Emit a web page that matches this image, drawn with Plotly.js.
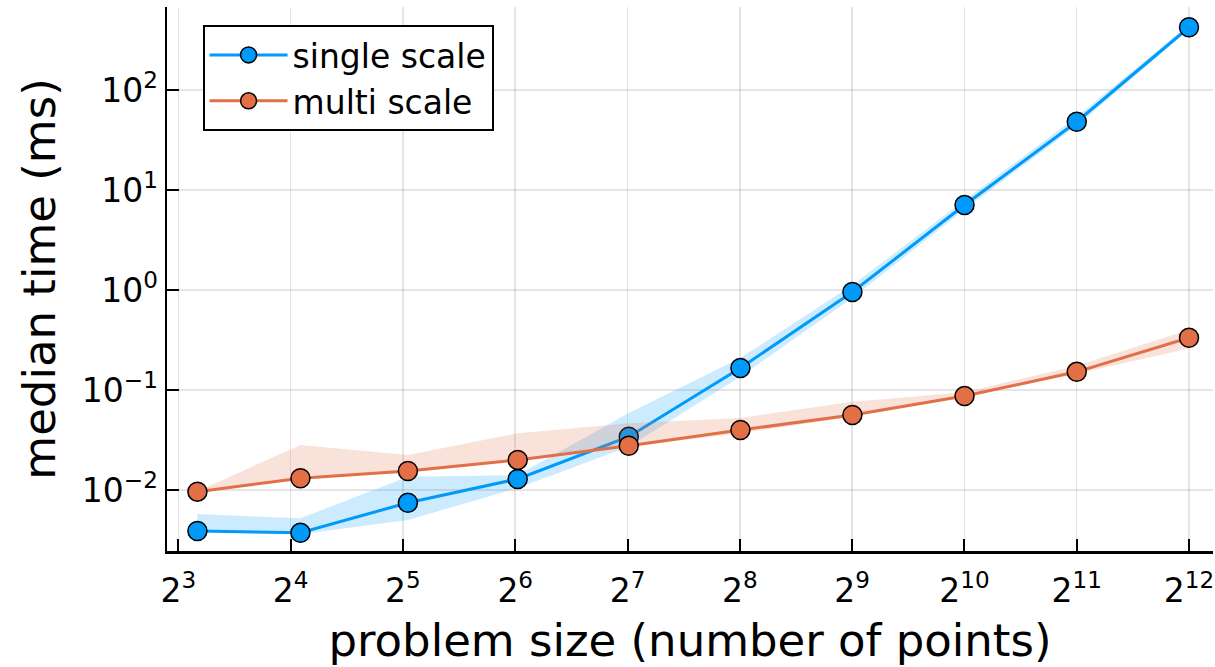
<!DOCTYPE html>
<html>
<head>
<meta charset="utf-8">
<script src="https://cdn.plot.ly/plotly-3.0.1.min.js"></script>
<style>
  html, body { margin: 0; padding: 0; background: #fff; }
  #chart { width: 1215px; height: 667px; }
</style>
</head>
<body>
<div id="chart"></div>
<script>
// Problem sizes (number of points)
const problemSize = [9, 17, 33, 65, 129, 257, 513, 1025, 2049, 4097];

// single scale: median time (ms) and ribbon bounds
const singleMedian = [0.00389, 0.00374, 0.00746, 0.0129, 0.0341, 0.166, 0.955, 7.08, 48.2, 424];
const singleUpper  = [0.00575, 0.00521, 0.0136, 0.0141, 0.059, 0.209, 1.12, 7.9, 54, 450];
const singleLower  = [0.0038, 0.0036, 0.0050, 0.0105, 0.027, 0.136, 0.83, 6.4, 44, 400];

// multi scale: median time (ms) and ribbon bounds
const multiMedian = [0.00962, 0.0131, 0.0155, 0.0200, 0.0277, 0.0398, 0.0562, 0.0871, 0.152, 0.333];
const multiUpper  = [0.0097, 0.0282, 0.0224, 0.0369, 0.0464, 0.0525, 0.0764, 0.095, 0.175, 0.40];
const multiLower  = [0.0095, 0.0128, 0.0150, 0.0195, 0.027, 0.037, 0.054, 0.085, 0.145, 0.26];

// tick labels
const xTickVals = [8, 16, 32, 64, 128, 256, 512, 1024, 2048, 4096];
const xTickText = ["2<sup>3</sup>", "2<sup>4</sup>", "2<sup>5</sup>", "2<sup>6</sup>", "2<sup>7</sup>",
                   "2<sup>8</sup>", "2<sup>9</sup>", "2<sup>10</sup>", "2<sup>11</sup>", "2<sup>12</sup>"];
const yTickVals = [0.01, 0.1, 1, 10, 100];
const yTickText = ["10<sup>\u22122</sup>", "10<sup>\u22121</sup>", "10<sup>0</sup>", "10<sup>1</sup>", "10<sup>2</sup>"];

const seriesNames = ["single scale", "multi scale"];

const BLUE = "#009AFA";
const ORANGE = "#E26F46";
const FONT = "DejaVu Sans, sans-serif";

function ribbon(lower, upper, fill) {
  return [
    { x: problemSize, y: lower, mode: "lines", line: { width: 0, color: fill },
      showlegend: false, hoverinfo: "skip", type: "scatter" },
    { x: problemSize, y: upper, mode: "lines", line: { width: 0, color: fill },
      fill: "tonexty", fillcolor: fill, showlegend: false, hoverinfo: "skip", type: "scatter" }
  ];
}

function series(y, name, color) {
  return {
    x: problemSize, y: y, name: name, type: "scatter", mode: "lines+markers",
    line: { color: color, width: 3 },
    marker: { color: color, size: 19, line: { color: "#000", width: 1.5 } }
  };
}

const data = [
  ...ribbon(singleLower, singleUpper, "rgba(0,154,250,0.2)"),
  series(singleMedian, seriesNames[0], BLUE),
  ...ribbon(multiLower, multiUpper, "rgba(226,111,70,0.2)"),
  series(multiMedian, seriesNames[1], ORANGE)
];

const L2 = Math.log10(2);
const layout = {
  width: 1215, height: 667,
  margin: { l: 167, r: 2, t: 7, b: 116, pad: 0 },
  paper_bgcolor: "#fff", plot_bgcolor: "#fff",
  font: { family: FONT, color: "#000" },
  showlegend: true,
  legend: {
    x: 0.034, y: 0.967, xanchor: "left", yanchor: "top",
    traceorder: "normal",
    itemwidth: 78,
    bgcolor: "#fff", bordercolor: "#000", borderwidth: 2,
    font: { family: FONT, size: 33, color: "#000" },
    tracegroupgap: 0
  },
  xaxis: {
    type: "log",
    range: [2.899 * L2, 12.214 * L2],
    tickvals: xTickVals, ticktext: xTickText,
    ticks: "inside", ticklen: 12, tickwidth: 2, tickcolor: "#000",
    ticklabelstandoff: 9,
    showline: true, linecolor: "#000", linewidth: 2.5,
    showgrid: true, gridcolor: "rgba(0,0,0,0.1)", gridwidth: 1.5,
    zeroline: false,
    tickfont: { family: FONT, size: 33, color: "#000" },
    title: { text: "problem size (number of points)", font: { family: FONT, size: 45, color: "#000" }, standoff: 22 },
    automargin: false
  },
  yaxis: {
    type: "log",
    range: [-2.61, 2.83],
    tickvals: yTickVals, ticktext: yTickText,
    ticks: "inside", ticklen: 12, tickwidth: 2, tickcolor: "#000",
    showline: true, linecolor: "#000", linewidth: 2.5,
    showgrid: true, gridcolor: "rgba(0,0,0,0.1)", gridwidth: 1.5,
    zeroline: false,
    tickfont: { family: FONT, size: 33, color: "#000" },
    title: { text: "median time (ms)", font: { family: FONT, size: 45, color: "#000" }, standoff: 12 },
    automargin: false
  }
};

Plotly.newPlot("chart", data, layout, { displayModeBar: false, staticPlot: true });
</script>
</body>
</html>
